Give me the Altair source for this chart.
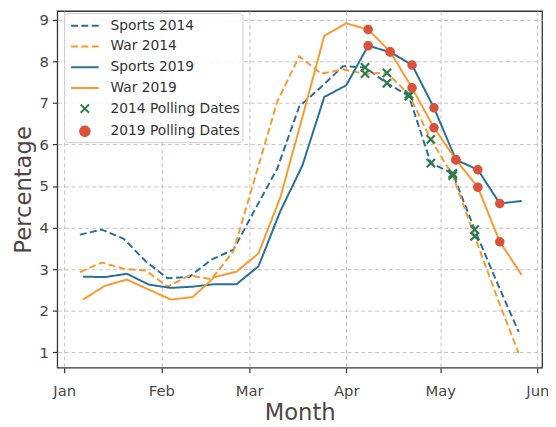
import altair as alt
import pandas as pd

series_names = ["Sports 2014", "War 2014", "Sports 2019", "War 2019",
                "2014 Polling Dates", "2019 Polling Dates"]
series_colors = ["#2a6f97", "#fb9a2c", "#2a6f97", "#fb9a2c", "#2e7d50", "#d9533c"]

# weekly samples (2014 weeks shown on the same Jan-Jun calendar as 2019)
weeks_2014 = ["2019-01-06", "2019-01-13", "2019-01-20", "2019-01-27", "2019-02-03",
              "2019-02-10", "2019-02-17", "2019-02-24", "2019-03-03", "2019-03-10",
              "2019-03-17", "2019-03-24", "2019-03-31", "2019-04-07", "2019-04-14",
              "2019-04-21", "2019-04-28", "2019-05-05", "2019-05-12", "2019-05-19",
              "2019-05-26"]
weeks_2019 = ["2019-01-07", "2019-01-14", "2019-01-21", "2019-01-28", "2019-02-04",
              "2019-02-11", "2019-02-18", "2019-02-25", "2019-03-04", "2019-03-11",
              "2019-03-18", "2019-03-25", "2019-04-01", "2019-04-08", "2019-04-15",
              "2019-04-22", "2019-04-29", "2019-05-06", "2019-05-13", "2019-05-20",
              "2019-05-27"]

sports_2014 = [3.83, 3.95, 3.73, 3.19, 2.78, 2.82, 3.23, 3.47, 4.45, 5.42, 6.91,
               7.38, 7.88, 7.85, 7.47, 7.16, 5.55, 5.30, 3.95, 2.70, 1.50]
war_2014 = [2.93, 3.16, 3.01, 2.97, 2.58, 2.85, 2.76, 3.43, 5.23, 7.03, 8.12,
            7.70, 7.80, 7.70, 7.72, 7.20, 6.12, 5.25, 3.79, 2.35, 0.98]
sports_2019 = [2.82, 2.81, 2.89, 2.63, 2.55, 2.58, 2.64, 2.64, 3.07, 4.40, 5.49,
               7.14, 7.42, 8.37, 8.22, 7.91, 6.88, 5.63, 5.39, 4.58, 4.64]
war_2019 = [2.27, 2.60, 2.75, 2.51, 2.27, 2.33, 2.81, 2.94, 3.38, 4.73, 6.65,
            8.61, 8.91, 8.76, 8.23, 7.36, 6.40, 5.63, 4.97, 3.66, 2.86]

polling_2014 = ["2019-04-07", "2019-04-14", "2019-04-21", "2019-04-28",
                "2019-05-05", "2019-05-12"]
polling_2019 = ["2019-04-08", "2019-04-15", "2019-04-22", "2019-04-29",
                "2019-05-06", "2019-05-13", "2019-05-20"]

y_ticks = [1, 2, 3, 4, 5, 6, 7, 8, 9]

# ---- tables ----
rows = []
for name, weeks, vals in [("Sports 2014", weeks_2014, sports_2014),
                          ("War 2014", weeks_2014, war_2014),
                          ("Sports 2019", weeks_2019, sports_2019),
                          ("War 2019", weeks_2019, war_2019)]:
    for d, v in zip(weeks, vals):
        rows.append({"date": pd.Timestamp(d), "value": v, "series": name})
lines_df = pd.DataFrame(rows)

prow = []
for d in polling_2014:
    i = weeks_2014.index(d)
    for vals in (sports_2014, war_2014):
        prow.append({"date": pd.Timestamp(d), "value": vals[i], "series": "2014 Polling Dates"})
x_df = pd.DataFrame(prow)
crow = []
for d in polling_2019:
    i = weeks_2019.index(d)
    for vals in (sports_2019, war_2019):
        crow.append({"date": pd.Timestamp(d), "value": vals[i], "series": "2019 Polling Dates"})
c_df = pd.DataFrame(crow)

SYM = 400  # symbol box: sqrt(400)=20 px, custom paths scaled by 10
LPATH = "M-1.4,0L1.4,0"
XPATH = "M-0.42,-0.42L0.42,0.42M-0.42,0.42L0.42,-0.42"
CPATH = "M0.48,0A0.48,0.48 0 1,1 -0.48,0A0.48,0.48 0 1,1 0.48,0Z"

color_scale = alt.Scale(domain=series_names, range=series_colors)
dash_scale = alt.Scale(domain=series_names,
                       range=[[7, 3.5], [7, 3.5], [1, 0], [1, 0], [1, 0], [1, 0]])
shape_scale = alt.Scale(domain=series_names,
                        range=[LPATH, LPATH, LPATH, LPATH, XPATH, CPATH])

legend = alt.Legend(orient="none", legendX=7, legendY=2, direction="vertical",
                    fillColor="rgba(255,255,255,0.85)", strokeColor="#cccccc",
                    cornerRadius=4, padding=2, labelFont="DejaVu Sans",
                    labelFontSize=14, labelColor="#333333", symbolSize=SYM,
                    symbolStrokeWidth=2, symbolFillColor="#d9533c", symbolOpacity=1,
                    symbolOffset=8, labelOffset=15, rowPadding=3)

tick_dates = [alt.DateTime(year=2019, month=m, date=1) for m in range(1, 7)]

x_enc = alt.X("date:T", title="Month",
              scale=alt.Scale(domain=[alt.DateTime(year=2018, month=12, date=29, hours=19),
                                      alt.DateTime(year=2019, month=6, date=2, hours=12)],
                              nice=False),
              axis=alt.Axis(values=tick_dates, format="%b", labelFontSize=15,
                            labelPadding=11, titlePadding=4, tickSize=5))
y_enc = alt.Y("value:Q", title="Percentage",
              scale=alt.Scale(domain=[0.63, 9.205], nice=False, zero=False),
              axis=alt.Axis(values=y_ticks, labelFontSize=15, labelPadding=4,
                            titlePadding=4, tickSize=5))

lines = alt.Chart(lines_df).mark_line(strokeWidth=2).encode(
    x=x_enc, y=y_enc,
    color=alt.Color("series:N", scale=color_scale, legend=legend, title=None),
    strokeDash=alt.StrokeDash("series:N", scale=dash_scale, legend=legend, title=None),
)
xs = alt.Chart(x_df).mark_point(filled=False, strokeWidth=2.2, size=SYM, opacity=1).encode(
    x=x_enc, y=y_enc,
    color=alt.Color("series:N", scale=color_scale, legend=legend, title=None),
    shape=alt.Shape("series:N", scale=shape_scale, legend=legend, title=None),
)
dots = alt.Chart(c_df).mark_point(filled=True, size=SYM, opacity=1).encode(
    x=x_enc, y=y_enc,
    color=alt.Color("series:N", scale=color_scale, legend=legend, title=None),
    shape=alt.Shape("series:N", scale=shape_scale, legend=legend, title=None),
)

chart = alt.layer(lines, xs, dots).properties(
    width=492, height=362,
    autosize=alt.AutoSizeParams(type="none"),
    padding={"left": 50, "top": 0, "right": 6, "bottom": 57},
).configure(font="DejaVu Sans").configure_view(
    stroke="#333333", strokeWidth=1.3
).configure_axis(
    grid=True, gridColor="#c9bfbc", gridDash=[4, 3], gridWidth=1,
    domain=False, tickColor="#333333", tickWidth=1.2,
    labelColor="#4d4545", titleColor="#4d4545", titleFontSize=23,
    titleFontWeight="normal", labelFont="DejaVu Sans", titleFont="DejaVu Sans",
)

chart.save("out.html", embed_options={"renderer": "svg", "actions": False})
